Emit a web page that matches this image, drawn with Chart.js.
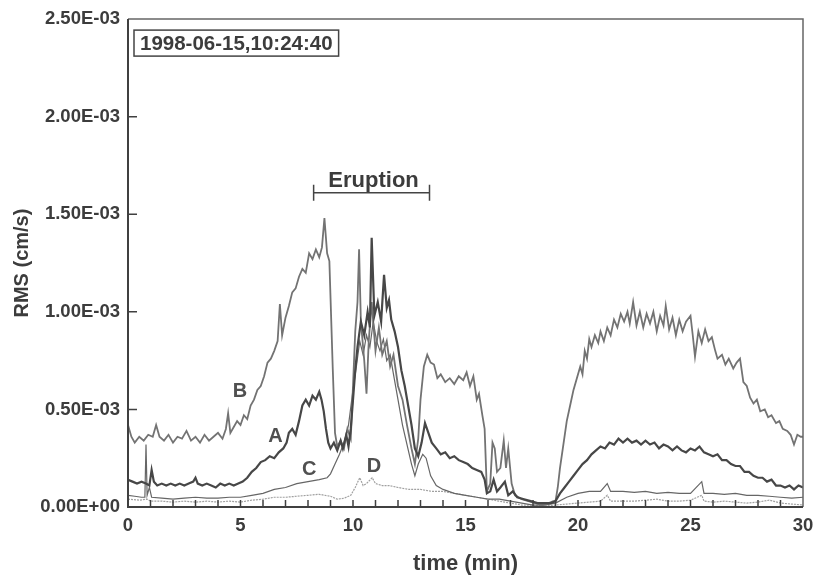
<!DOCTYPE html>
<html>
<head>
<meta charset="utf-8">
<script src="https://cdn.jsdelivr.net/npm/chart.js@4"></script>
<style>
  html, body { margin: 0; padding: 0; background: #fff; }
  #wrap { width: 813px; height: 577px; }
</style>
</head>
<body>
<div id="wrap"><canvas id="rmsChart" width="813" height="577"></canvas></div>
<script>
// RMS values in units of 1E-03 cm/s, time in minutes
const timeA = [0,0.2,0.4,0.6,0.8,0.95,1.05,1.15,1.3,1.5,1.7,1.9,2.1,2.3,2.5,2.7,2.9,3.0,3.1,3.3,3.5,3.7,3.9,4.1,4.3,4.5,4.7,4.9,5.1,5.3,5.5,5.7,5.9,6.1,6.3,6.5,6.7,6.9,7.05,7.15,7.3,7.45,7.6,7.75,7.9,8.05,8.2,8.35,8.5,8.6,8.7,8.8,8.9,9.0,9.15,9.3,9.45,9.55,9.7,9.8,9.9,10.0,10.1,10.2,10.35,10.5,10.65,10.75,10.83,10.95,11.1,11.25,11.38,11.5,11.6,11.7,11.85,12.0,12.15,12.3,12.45,12.6,12.75,12.9,13.05,13.2,13.35,13.5,13.7,13.9,14.1,14.3,14.5,14.7,14.9,15.1,15.3,15.5,15.7,15.85,15.95,16.1,16.25,16.4,16.55,16.75,16.9,17.1,17.3,17.6,17.9,18.2,18.5,18.8,19.0,19.2,19.4,19.6,19.8,20.0,20.2,20.4,20.6,20.8,21.0,21.2,21.4,21.6,21.8,22.0,22.2,22.4,22.6,22.8,23.0,23.2,23.4,23.6,23.8,24.0,24.2,24.4,24.6,24.8,25.0,25.2,25.4,25.6,25.8,26.0,26.2,26.4,26.6,26.8,27.0,27.2,27.4,27.6,27.8,28.0,28.2,28.4,28.6,28.8,29.0,29.2,29.4,29.6,29.8,30.0];
const rmsA = [0.14,0.13,0.12,0.13,0.12,0.11,0.19,0.13,0.11,0.12,0.11,0.12,0.11,0.12,0.11,0.12,0.13,0.15,0.12,0.11,0.12,0.11,0.10,0.12,0.11,0.12,0.11,0.12,0.13,0.15,0.18,0.20,0.23,0.24,0.26,0.25,0.28,0.30,0.33,0.38,0.40,0.37,0.44,0.52,0.55,0.52,0.57,0.55,0.59,0.55,0.49,0.40,0.33,0.30,0.33,0.29,0.34,0.30,0.37,0.31,0.40,0.55,0.70,0.82,0.95,0.88,1.00,0.92,1.38,0.98,1.05,0.95,1.19,1.02,1.06,0.96,0.90,0.82,0.70,0.62,0.52,0.42,0.30,0.26,0.33,0.43,0.38,0.33,0.30,0.27,0.28,0.25,0.26,0.24,0.23,0.22,0.20,0.19,0.18,0.14,0.07,0.08,0.14,0.08,0.10,0.13,0.06,0.08,0.05,0.04,0.03,0.02,0.02,0.02,0.03,0.07,0.10,0.13,0.16,0.19,0.22,0.24,0.27,0.29,0.31,0.30,0.33,0.32,0.35,0.33,0.35,0.33,0.34,0.32,0.34,0.32,0.33,0.30,0.32,0.31,0.29,0.31,0.29,0.28,0.30,0.29,0.31,0.28,0.27,0.26,0.27,0.24,0.24,0.22,0.21,0.21,0.18,0.18,0.16,0.15,0.15,0.13,0.14,0.11,0.11,0.10,0.11,0.09,0.11,0.10];

const timeB = [0,0.15,0.3,0.5,0.7,0.9,1.1,1.25,1.4,1.6,1.8,2.0,2.2,2.4,2.6,2.8,3.0,3.2,3.4,3.6,3.8,4.0,4.2,4.35,4.45,4.55,4.7,4.85,5.0,5.15,5.3,5.45,5.6,5.75,5.9,6.05,6.2,6.35,6.5,6.65,6.75,6.85,7.0,7.15,7.3,7.45,7.6,7.75,7.9,8.05,8.2,8.35,8.5,8.62,8.73,8.85,8.95,9.1,9.2,9.3,9.45,9.6,9.75,9.9,10.0,10.1,10.2,10.27,10.35,10.5,10.6,10.7,10.83,11.0,11.15,11.3,11.5,11.65,11.8,12.0,12.2,12.4,12.6,12.75,12.9,13.0,13.15,13.3,13.45,13.6,13.75,13.9,14.1,14.3,14.5,14.7,14.9,15.05,15.2,15.35,15.5,15.6,15.75,15.85,15.95,16.1,16.2,16.3,16.4,16.55,16.7,16.8,16.9,17.05,17.2,17.5,17.8,18.1,18.4,18.7,18.9,19.0,19.1,19.2,19.35,19.5,19.65,19.8,19.95,20.1,20.2,20.3,20.4,20.5,20.6,20.75,20.9,21.0,21.15,21.3,21.45,21.6,21.75,21.9,22.05,22.2,22.3,22.45,22.6,22.75,22.9,23.05,23.2,23.35,23.5,23.65,23.8,23.9,24.05,24.2,24.35,24.5,24.65,24.8,25.0,25.1,25.2,25.35,25.5,25.65,25.8,25.95,26.1,26.2,26.4,26.55,26.7,26.9,27.05,27.2,27.35,27.5,27.65,27.8,27.95,28.1,28.3,28.45,28.6,28.8,28.95,29.1,29.3,29.45,29.6,29.75,29.9,30.0];
const rmsB = [0.42,0.36,0.33,0.36,0.34,0.37,0.36,0.42,0.36,0.34,0.37,0.33,0.36,0.35,0.39,0.34,0.36,0.33,0.37,0.34,0.36,0.38,0.35,0.40,0.48,0.38,0.41,0.44,0.42,0.47,0.45,0.52,0.55,0.60,0.62,0.67,0.74,0.76,0.80,0.85,1.04,0.88,0.97,1.03,1.10,1.12,1.18,1.22,1.20,1.30,1.27,1.32,1.28,1.33,1.48,1.30,1.26,0.71,0.38,0.31,0.34,0.30,0.40,0.35,0.62,0.90,1.05,1.32,0.95,0.75,0.58,0.85,1.05,0.80,0.92,0.78,0.85,0.72,0.78,0.62,0.55,0.42,0.30,0.22,0.35,0.55,0.72,0.78,0.74,0.73,0.66,0.68,0.64,0.66,0.63,0.67,0.65,0.69,0.62,0.67,0.55,0.58,0.47,0.40,0.08,0.12,0.33,0.30,0.18,0.20,0.34,0.20,0.30,0.12,0.06,0.04,0.03,0.02,0.01,0.02,0.03,0.03,0.10,0.20,0.32,0.44,0.52,0.60,0.66,0.72,0.68,0.80,0.76,0.86,0.82,0.88,0.84,0.90,0.85,0.92,0.88,0.96,0.92,0.99,0.95,1.00,0.94,1.05,0.93,1.00,0.92,0.99,0.94,1.00,0.90,0.98,0.93,1.03,0.91,0.97,0.88,0.96,0.90,0.95,0.98,0.88,0.77,0.90,0.84,0.91,0.85,0.87,0.80,0.76,0.78,0.73,0.76,0.71,0.74,0.76,0.64,0.62,0.56,0.53,0.55,0.49,0.50,0.46,0.47,0.43,0.44,0.40,0.39,0.37,0.32,0.37,0.36,0.36];

const timeC = [0,0.3,0.6,0.75,0.8,0.85,0.95,1.05,1.5,2.0,2.5,3.0,3.5,4.0,4.5,5.0,5.5,6.0,6.5,7.0,7.5,8.0,8.5,8.85,9.0,9.2,9.4,9.6,9.8,10.0,10.15,10.3,10.45,10.6,10.75,10.9,11.05,11.2,11.35,11.5,11.65,11.8,12.0,12.2,12.4,12.6,12.75,12.9,13.1,13.25,13.45,13.7,14.0,14.5,15.0,15.5,16.0,16.5,17.0,17.5,18.0,18.5,19.0,19.5,20.0,20.5,21.0,21.3,21.45,22.0,22.5,23.0,23.5,24.0,24.5,25.0,25.5,25.6,26.0,26.5,27.0,27.5,28.0,28.5,29.0,29.5,30.0];
const rmsC = [0.06,0.055,0.05,0.05,0.32,0.06,0.10,0.05,0.045,0.04,0.045,0.05,0.045,0.045,0.05,0.05,0.06,0.07,0.09,0.10,0.12,0.13,0.14,0.15,0.17,0.22,0.27,0.33,0.42,0.60,0.72,0.85,0.78,0.88,0.82,0.95,0.85,0.80,0.86,0.75,0.78,0.68,0.55,0.42,0.32,0.22,0.16,0.22,0.27,0.25,0.16,0.11,0.09,0.07,0.06,0.05,0.04,0.04,0.03,0.02,0.01,0.01,0.02,0.05,0.07,0.08,0.08,0.12,0.08,0.08,0.075,0.08,0.07,0.075,0.07,0.07,0.13,0.07,0.07,0.065,0.07,0.06,0.06,0.055,0.05,0.045,0.05];

const timeD = [0,0.5,0.85,1.0,1.5,2.0,2.5,3.0,3.5,4.0,4.5,5.0,5.5,6.0,6.5,7.0,7.5,8.0,8.5,9.0,9.3,9.6,9.9,10.1,10.3,10.45,10.6,10.85,11.0,11.3,11.6,12.0,12.5,13.0,13.5,14.0,14.5,15.0,15.5,16.0,16.5,17.0,17.5,18.0,18.5,19.0,19.5,20.0,20.5,21.0,21.3,21.45,22.0,22.5,23.0,23.5,24.0,24.5,25.0,25.5,25.6,26.0,26.5,27.0,27.5,28.0,28.5,29.0,29.5,30.0];
const rmsD = [0.04,0.035,0.04,0.03,0.03,0.025,0.03,0.025,0.03,0.025,0.03,0.025,0.035,0.04,0.05,0.05,0.055,0.06,0.065,0.055,0.04,0.045,0.06,0.10,0.15,0.11,0.12,0.15,0.12,0.11,0.11,0.10,0.09,0.09,0.08,0.08,0.07,0.06,0.05,0.04,0.03,0.02,0.01,0.01,0.005,0.01,0.015,0.02,0.025,0.03,0.06,0.03,0.03,0.03,0.035,0.04,0.03,0.03,0.035,0.06,0.03,0.025,0.03,0.025,0.02,0.025,0.035,0.02,0.015,0.01];

const yTicks = [0, 0.5, 1.0, 1.5, 2.0, 2.5];
const xTicks = [0, 5, 10, 15, 20, 25, 30];
const stampText = '1998-06-15,10:24:40';
const eruption = { start: 8.25, end: 13.4, level: 1.61, label: 'Eruption' };
// curve labels: [text, time, value]
const curveLabels = [['B', 4.98, 0.59], ['A', 6.55, 0.36], ['C', 8.05, 0.19], ['D', 10.93, 0.21]];

const FONT = '"Liberation Sans", Arial, Helvetica, sans-serif';
const INK = '#3c3c3c';

function pts(ts, vs) {
  return ts.map((t, i) => ({ x: t, y: vs[i] }));
}

const decorations = {
  id: 'decorations',
  afterDatasetsDraw(chart) {
    const { ctx, chartArea: a, scales: { x, y } } = chart;
    ctx.save();

    // frame
    ctx.strokeStyle = '#666';
    ctx.lineWidth = 1.5;
    ctx.beginPath();
    ctx.moveTo(a.left, a.top); ctx.lineTo(a.right, a.top); ctx.lineTo(a.right, a.bottom);
    ctx.stroke();
    ctx.strokeStyle = '#404040';
    ctx.lineWidth = 2;
    ctx.beginPath();
    ctx.moveTo(a.left, a.top); ctx.lineTo(a.left, a.bottom); ctx.lineTo(a.right, a.bottom);
    ctx.stroke();

    // inward ticks: every minute on x, every 0.5E-03 on y
    ctx.lineWidth = 1.5;
    ctx.beginPath();
    for (let t = 1; t < 30; t++) {
      const px = x.getPixelForValue(t);
      ctx.moveTo(px, a.bottom); ctx.lineTo(px, a.bottom - 7);
    }
    yTicks.slice(1, -1).forEach(v => {
      const py = y.getPixelForValue(v);
      ctx.moveTo(a.left, py); ctx.lineTo(a.left + 9, py);
    });
    ctx.stroke();

    // eruption bar
    const ex0 = x.getPixelForValue(eruption.start);
    const ex1 = x.getPixelForValue(eruption.end);
    const ey = y.getPixelForValue(eruption.level);
    ctx.strokeStyle = '#444';
    ctx.lineWidth = 1.5;
    ctx.beginPath();
    ctx.moveTo(ex0, ey); ctx.lineTo(ex1, ey);
    ctx.moveTo(ex0, ey - 8); ctx.lineTo(ex0, ey + 8);
    ctx.moveTo(ex1, ey - 8); ctx.lineTo(ex1, ey + 8);
    ctx.stroke();
    ctx.fillStyle = INK;
    ctx.font = 'bold 22px ' + FONT;
    ctx.textAlign = 'center';
    ctx.textBaseline = 'alphabetic';
    ctx.fillText(eruption.label, (ex0 + ex1) / 2 + 2, ey - 6);

    // curve labels
    ctx.fillStyle = '#505050';
    ctx.font = 'bold 20px ' + FONT;
    ctx.textBaseline = 'middle';
    curveLabels.forEach(([txt, t, v]) => {
      ctx.fillText(txt, x.getPixelForValue(t), y.getPixelForValue(v));
    });

    // time stamp box
    ctx.font = 'bold 20.5px ' + FONT;
    ctx.textAlign = 'left';
    const bx = a.left + 6, by = a.top + 11;
    const w = ctx.measureText(stampText).width;
    ctx.strokeStyle = '#444';
    ctx.lineWidth = 1.5;
    ctx.strokeRect(bx, by, w + 12, 26);
    ctx.fillStyle = INK;
    ctx.fillText(stampText, bx + 6, by + 14);

    ctx.restore();
  }
};

new Chart(document.getElementById('rmsChart'), {
  type: 'line',
  data: {
    datasets: [
      { label: 'A', data: pts(timeA, rmsA), borderColor: '#474747', borderWidth: 2.2 },
      { label: 'B', data: pts(timeB, rmsB), borderColor: '#737373', borderWidth: 1.8 },
      { label: 'C', data: pts(timeC, rmsC), borderColor: '#666666', borderWidth: 1.2 },
      { label: 'D', data: pts(timeD, rmsD), borderColor: '#a0a0a0', borderWidth: 1.2, borderDash: [2, 1] }
    ]
  },
  options: {
    responsive: false,
    animation: false,
    layout: { padding: { left: 0, right: 10, top: 16, bottom: 0 } },
    elements: { point: { radius: 0 }, line: { tension: 0 } },
    plugins: { legend: { display: false }, tooltip: { enabled: false } },
    scales: {
      x: {
        type: 'linear',
        min: 0,
        max: 30,
        afterBuildTicks: s => { s.ticks = xTicks.map(v => ({ value: v })); },
        afterFit: s => { s.height = 70; s.paddingLeft = 0; s.paddingRight = 0; },
        grid: { display: false, drawTicks: false },
        border: { display: false },
        ticks: { padding: 8, color: INK, font: { family: FONT, size: 18.5, weight: 'bold' }, maxRotation: 0 },
        title: { display: true, text: 'time (min)', color: INK, padding: { top: 0, bottom: 0 }, font: { family: FONT, size: 22, weight: 'bold' } }
      },
      y: {
        min: 0,
        max: 2.5,
        afterBuildTicks: s => { s.ticks = yTicks.map(v => ({ value: v })); },
        afterFit: s => { s.width = 128; },
        grid: { display: false, drawTicks: false },
        border: { display: false },
        ticks: {
          padding: 8,
          color: INK,
          font: { family: FONT, size: 18.5, weight: 'bold' },
          callback: v => v === 0 ? '0.00E+00' : v.toFixed(2) + 'E-03'
        },
        title: { display: true, text: 'RMS (cm/s)', color: INK, padding: { top: 10, bottom: 0 }, font: { family: FONT, size: 20, weight: 'bold' } }
      }
    }
  },
  plugins: [decorations]
});
</script>
</body>
</html>
